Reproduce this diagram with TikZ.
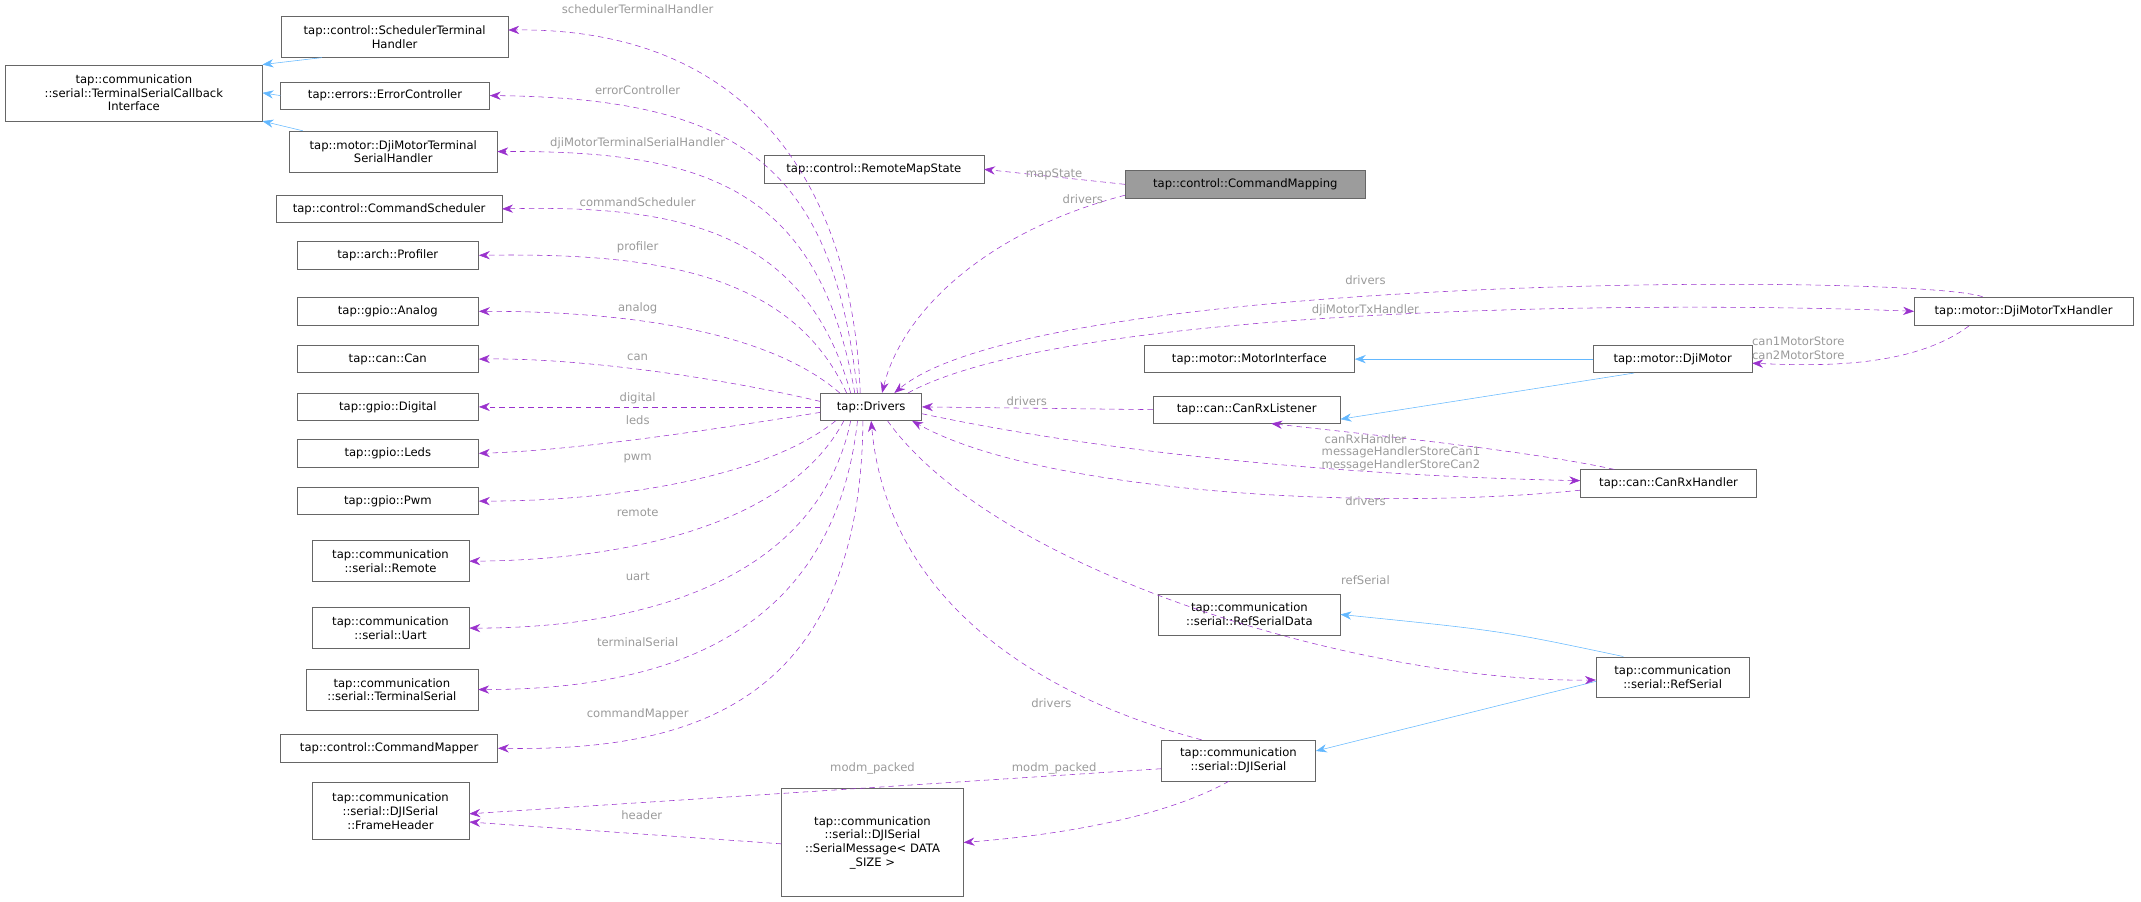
\documentclass[tikz,border=0pt]{standalone}
\usepackage{fontspec}
\setmainfont{DejaVu Sans}
\usetikzlibrary{arrows.meta}
\definecolor{depcol}{HTML}{9A32CD}
\definecolor{inhcol}{HTML}{63B8FF}
\definecolor{lblcol}{HTML}{9A9A9A}
\definecolor{boxcol}{HTML}{666666}
\tikzset{
  cls/.style={draw=boxcol,fill=white,inner sep=0pt,align=center,font=\fontsize{8.5}{10}\selectfont},
  dep/.style={depcol,dash pattern=on 4pt off 3pt,-{Stealth[length=8pt,width=6pt]}},
  inh/.style={inhcol,-{Stealth[length=8pt,width=6pt]}},
  lbl/.style={lblcol,inner sep=0pt,font=\fontsize{8.5}{10}\selectfont,align=center}
}
\begin{document}
\begin{tikzpicture}[x=1pt,y=-1pt]
\useasboundingbox (0,0) rectangle (1568,660);
% classes
\node[cls,minimum width=188pt,minimum height=41pt] (tsc) at (98,68) {tap::communication\\::serial::TerminalSerialCallback\\Interface};
\node[cls,minimum width=166pt,minimum height=30pt] (sch) at (289,27) {tap::control::SchedulerTerminal\\Handler};
\node[cls,minimum width=153pt,minimum height=20pt] (err) at (282,70) {tap::errors::ErrorController};
\node[cls,minimum width=152pt,minimum height=30pt] (dmt) at (288,111) {tap::motor::DjiMotorTerminal\\SerialHandler};
\node[cls,minimum width=165pt,minimum height=20pt] (csch) at (285,153) {tap::control::CommandScheduler};
\node[cls,minimum width=133pt,minimum height=20pt] (prof) at (284,187) {tap::arch::Profiler};
\node[cls,minimum width=133pt,minimum height=20pt] (ana) at (284,228) {tap::gpio::Analog};
\node[cls,minimum width=133pt,minimum height=20pt] (can) at (284,263) {tap::can::Can};
\node[cls,minimum width=133pt,minimum height=20pt] (dig) at (284,298) {tap::gpio::Digital};
\node[cls,minimum width=133pt,minimum height=20pt] (leds) at (284,332) {tap::gpio::Leds};
\node[cls,minimum width=133pt,minimum height=20pt] (pwm) at (284,367) {tap::gpio::Pwm};
\node[cls,minimum width=115pt,minimum height=30pt] (rem) at (286,411) {tap::communication\\::serial::Remote};
\node[cls,minimum width=115pt,minimum height=30pt] (uart) at (286,460) {tap::communication\\::serial::Uart};
\node[cls,minimum width=126pt,minimum height=30pt] (tser) at (287,505) {tap::communication\\::serial::TerminalSerial};
\node[cls,minimum width=159pt,minimum height=20pt] (cmap) at (285,548) {tap::control::CommandMapper};
\node[cls,minimum width=115pt,minimum height=42pt] (fh) at (286,594) {tap::communication\\::serial::DJISerial\\::FrameHeader};
\node[cls,minimum width=133pt,minimum height=79pt] (sm) at (639,617) {tap::communication\\::serial::DJISerial\\::SerialMessage< DATA\\\_SIZE >};
\node[cls,minimum width=74pt,minimum height=20pt] (drv) at (638,298) {tap::Drivers};
\node[cls,minimum width=161pt,minimum height=20pt] (rms) at (640,124) {tap::control::RemoteMapState};
\node[cls,fill=boxcol!65,minimum width=176pt,minimum height=20pt] (cmg) at (912,135) {tap::control::CommandMapping};
\node[cls,minimum width=160pt,minimum height=21pt] (tx) at (1482,228) {tap::motor::DjiMotorTxHandler};
\node[cls,minimum width=154pt,minimum height=20pt] (mi) at (915,263) {tap::motor::MotorInterface};
\node[cls,minimum width=116pt,minimum height=20pt] (dm) at (1225,263) {tap::motor::DjiMotor};
\node[cls,minimum width=137pt,minimum height=20pt] (crl) at (913,300) {tap::can::CanRxListener};
\node[cls,minimum width=129pt,minimum height=20pt] (crh) at (1222,354) {tap::can::CanRxHandler};
\node[cls,minimum width=133pt,minimum height=30pt] (rsd) at (915,450) {tap::communication\\::serial::RefSerialData};
\node[cls,minimum width=112pt,minimum height=30pt] (rs) at (1225,496) {tap::communication\\::serial::RefSerial};
\node[cls,minimum width=113pt,minimum height=30pt] (dj) at (907,557) {tap::communication\\::serial::DJISerial};
% inheritance
\draw[inh] ([xshift=30pt]sch.south west) -- (tsc.north east);
\draw[inh] (err.west) -- (tsc.east);
\draw[inh] ([xshift=10pt]dmt.north west) -- (tsc.south east);
\draw[inh] (dm.west) -- (mi.east);
\draw[inh] ([xshift=30pt]dm.south west) -- ([yshift=-7pt]crl.east);
\draw[inh] ([xshift=20pt]rs.north west) .. controls (1100,462) .. (rsd.east);
\draw[inh] ([yshift=-3pt]rs.west) -- ([yshift=7pt]dj.east);
% members of drivers, left side
\draw[dep] ([xshift=-8pt]drv.north) .. controls (625,150) and (560,20) .. ([yshift=5pt]sch.east);
\draw[dep] ([xshift=-10pt]drv.north) .. controls (610,120) and (540,72) .. (err.east);
\draw[dep] ([xshift=-12pt]drv.north) .. controls (600,140) and (520,110) .. (dmt.east);
\draw[dep] ([xshift=-15pt]drv.north) .. controls (590,170) and (500,150) .. (csch.east);
\draw[dep] ([xshift=-18pt]drv.north) .. controls (580,200) and (480,185) .. (prof.east);
\draw[dep] ([xshift=-23pt]drv.north) .. controls (560,240) and (450,228) .. (ana.east);
\draw[dep] ([yshift=4pt]drv.west) .. controls (520,275) and (420,262) .. (can.east);
\draw[dep] (drv.west) -- (dig.east);
\draw[dep] ([yshift=-4pt]drv.west) .. controls (520,315) and (420,330) .. (leds.east);
\draw[dep] ([xshift=-26pt]drv.south) .. controls (560,350) and (450,367) .. (pwm.east);
\draw[dep] ([xshift=-20pt]drv.south) .. controls (580,380) and (470,410) .. (rem.east);
\draw[dep] ([xshift=-15pt]drv.south) .. controls (600,420) and (480,460) .. (uart.east);
\draw[dep] ([xshift=-10pt]drv.south) .. controls (610,470) and (480,505) .. (tser.east);
\draw[dep] ([xshift=-6pt]drv.south) .. controls (630,520) and (500,550) .. (cmap.east);
% right side
\draw[dep] (cmg.west) -- (rms.east);
\draw[dep] ([yshift=-8pt]cmg.west) .. controls (720,170) and (660,230) .. ([xshift=8pt]drv.north);
\draw[dep] ([xshift=-30pt]tx.north) .. controls (1400,200) and (760,200) .. ([xshift=17pt]drv.north);
\draw[dep] ([xshift=27pt]drv.north) .. controls (780,225) and (1200,220) .. (tx.west);
\draw[dep] ([xshift=-40pt]tx.south) .. controls (1400,270) and (1330,268) .. ([yshift=-3pt]dm.east);
\draw[dep] (crl.west) -- (drv.east);
\draw[dep] ([xshift=25pt]crh.north west) .. controls (1120,330) and (1000,318) .. ([xshift=18pt]crl.south);
\draw[dep] ([yshift=-5pt]drv.east) .. controls (850,340) and (1050,350) .. ([yshift=2pt]crh.west);
\draw[dep] ([yshift=-5pt]crh.west) .. controls (1000,375) and (760,360) .. ([xshift=30pt]drv.south);
\draw[dep] ([xshift=12pt]drv.south) .. controls (730,420) and (1000,500) .. ([yshift=-2pt]rs.west);
\draw[dep] ([xshift=-27pt]dj.north) .. controls (760,510) and (650,440) .. (drv.south);
\draw[dep] ([yshift=-6pt]dj.west) -- ([yshift=-2pt]fh.east);
\draw[dep] ([xshift=-7pt]dj.south) .. controls (850,600) and (770,612) .. (sm.east);
\draw[dep] ([yshift=-1pt]sm.west) -- ([yshift=-8pt]fh.east);
% labels
\node[lbl] (l1) at (467,7) {schedulerTerminalHandler};
\node[lbl] (l2) at (467,66) {errorController};
\node[lbl] (l3) at (467,105) {djiMotorTerminalSerialHandler};
\node[lbl] (l4) at (467,148) {commandScheduler};
\node[lbl] (l5) at (467,181) {profiler};
\node[lbl] (l6) at (467,226) {analog};
\node[lbl] (l7) at (467,262) {can};
\node[lbl] (l8) at (467,292) {digital};
\node[lbl] (l9) at (467,308) {leds};
\node[lbl] (l10) at (467,336) {pwm};
\node[lbl] (l11) at (467,375) {remote};
\node[lbl] (l12) at (467,422) {uart};
\node[lbl] (l13) at (467,470) {terminalSerial};
\node[lbl] (l14) at (467,523) {commandMapper};
\node[lbl] (l15) at (772,128) {mapState};
\node[lbl] (l16) at (793,146) {drivers};
\node[lbl] (l17) at (1000,205) {drivers};
\node[lbl] (l18) at (1000,227) {djiMotorTxHandler};
\node[lbl] (l19) at (1317,255) {can1MotorStore\\can2MotorStore};
\node[lbl] (l20) at (752,294) {drivers};
\node[lbl] (l21) at (1026,336) {messageHandlerStoreCan1\\messageHandlerStoreCan2};
\node[lbl] (l22) at (1000,322) {canRxHandler};
\node[lbl] (l23) at (1000,367) {drivers};
\node[lbl] (l24) at (1000,425) {refSerial};
\node[lbl] (l25) at (770,515) {drivers};
\node[lbl] (l26) at (639,563) {modm\_packed};
\node[lbl] (l27) at (772,563) {modm\_packed};
\node[lbl] (l28) at (470,597) {header};
\end{tikzpicture}
\end{document}
